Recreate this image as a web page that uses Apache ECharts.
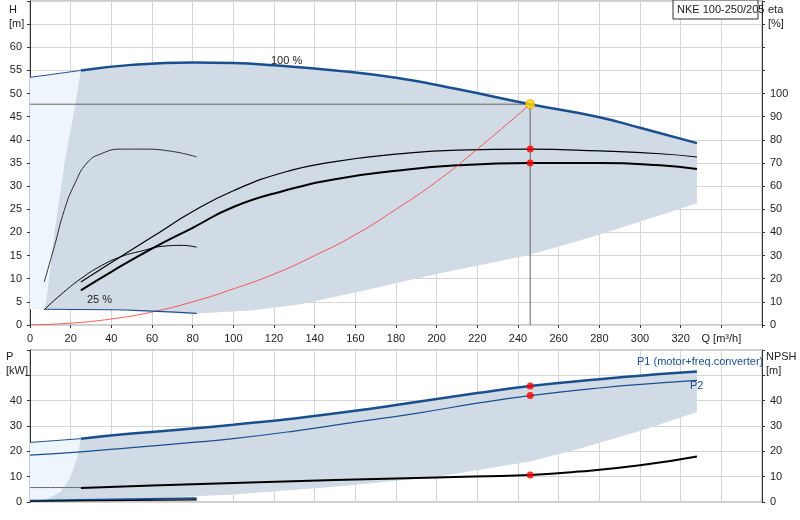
<!DOCTYPE html><html><head><meta charset="utf-8">
<script src="https://cdn.jsdelivr.net/npm/echarts@6/dist/echarts.min.js"></script>
<style>body{margin:0}#c{width:800px;height:520px}</style></head><body><div id="c"></div>
<script>
const qTicks=[0,20,40,60,80,100,120,140,160,180,200,220,240,260,280,300,320];
const h100=[[25,55],[50,56.2],[80,56.7],[100,56.6],[120,56.1],[150,55],[180,53.4],[210,51],[246,47.7],[280,44.9],[300,42.6],[328,39.3]];
const h100thin=[[0,53.5],[25,55]];
const hBandLower=[[328,26.3],[280,19.5],[246,15.2],[200,11],[160,7],[133,4.5],[110,3.2],[82,2.5],[60,3],[40,3.3],[7,3.4],[8,5],[12,20],[17,35],[22,47],[25,55]];
const hLight=[[0,3.4],[7,3.4],[8,5],[12,20],[17,35],[22,47],[25,55],[0,53.5]];
const h25=[[7,3.4],[40,3.3],[60,3],[82,2.5]];
const etaThick=[[25,7.5],[40,11.5],[60,16.5],[80,21],[100,25.5],[125,29],[150,31.5],[180,33.3],[210,34.5],[246,35],[280,35],[310,34.5],[328,33.7]];
const etaThin=[[25,9.3],[40,13.5],[60,19],[80,24.5],[100,29],[125,33],[150,35.3],[180,36.9],[210,37.8],[246,38],[280,37.6],[310,37],[328,36.3]];
const hSmall=[[7,9.3],[12,17],[17,25],[22,30.5],[28,35],[35,37],[45,38],[55,38],[70,37.5],[82,36.3]];
const etaSmall=[[7,3.3],[15,6.5],[25,10],[35,12.8],[45,14.8],[55,16],[65,17],[75,17.2],[82,16.8]];
const sysCurve=[[0,0],[20,0.4],[40,1.3],[60,2.8],[80,5],[100,7.8],[120,11],[140,15],[160,19.5],[180,25],[200,31],[220,38],[246,47.7]];
const dutyQ=246, dutyH=47.7;
const p1=[[25,25],[50,27],[80,29],[100,30.5],[130,33],[160,36],[190,39.5],[220,43],[246,45.8],[280,48.5],[310,50.5],[328,51.5]];
const p1thin=[[0,23.5],[25,25]];
const p2=[[0,18.5],[25,19.8],[50,21.5],[80,23.5],[100,25],[130,28],[160,31.5],[190,35],[220,39],[246,42],[280,45],[310,47],[328,48]];
const pBandLower=[[328,35.5],[300,28],[270,21],[246,16],[200,10],[150,6],[100,3],[60,1.5],[25,0.5],[3,0.3],[8,1],[15,4],[20,10],[23,17],[25,25]];
const pLight=[[0,0],[3,0.3],[8,1],[15,4],[20,10],[23,17],[25,25],[0,23.5]];
const npsh=[[25,5.5],[60,6.5],[100,7.5],[150,8.7],[200,9.7],[246,10.7],[270,12],[300,14.5],[328,18]];
const npshGray=[[0,5.7],[25,5.7]];
const smallBlue=[[0,0.5],[82,1.5]];
const smallBlack=[[0,0.3],[82,0.8]];
const FONT='Liberation Sans';
function poly(pts,color,xi){return {type:'custom',xAxisIndex:xi,yAxisIndex:xi*2,z:1,silent:true,data:[[0,0]],
 renderItem:(p,api)=>({type:'polygon',shape:{points:pts.map(q=>api.coord(q))},style:{fill:color}})};}
function line(d,color,w,xi,yi,z){return {type:'line',xAxisIndex:xi,yAxisIndex:yi,data:d,smooth:true,symbol:'none',z:z||3,silent:true,lineStyle:{color:color,width:w}};}
function xAx(i,labels){return {type:'value',gridIndex:i,min:0,max:360,interval:20,
 axisLine:{show:false},axisTick:{show:labels,length:3,lineStyle:{color:'#333'}},splitLine:{lineStyle:{color:'#d4d4d4'}},
 axisLabel:{show:labels,fontFamily:FONT,fontSize:11,color:'#222',formatter:v=>v==340?'Q [m³/h]':(v>320?'':v)}};}
function yAx(i,max,pos,show,maxLab,interval){return {type:'value',gridIndex:i,min:0,max:max,interval:interval,position:pos,
 axisLine:{show:true,lineStyle:{color:'#333'}},axisTick:{show:true,length:3,lineStyle:{color:'#333'}},
 splitLine:{show:show,lineStyle:{color:'#d4d4d4'}},
 axisLabel:{fontFamily:FONT,fontSize:11,color:'#222',formatter:v=>v>maxLab?'':v}};}
const opt={animation:false,
 grid:[{left:30,right:38,top:1,height:324,show:true,borderColor:'#999'},{left:30,right:38,top:350,height:152,show:true,borderColor:'#999'}],
 xAxis:[xAx(0,true),xAx(1,false)],
 yAxis:[yAx(0,70,'left',true,60,5),yAx(0,140,'right',false,100,10),yAx(1,60,'left',true,40,10),yAx(1,60,'right',false,40,10)],
 series:[
  poly(hLight,'#eef5fc',0),poly(h100.concat(hBandLower),'#d0dbe6',0),
  line(h100,'#1a4f8f',2.5,0,0,4),line(h100thin,'#1a4f8f',1,0,0,4),line(h25,'#1a4f8f',1.2,0,0,4),
  line(etaThick,'#000',2,0,0),line(etaThin,'#000',1.2,0,0),line(hSmall,'#000',0.8,0,0),line(etaSmall,'#000',1,0,0),
  line(sysCurve,'#ff3333',0.8,0,0),
  {type:'line',xAxisIndex:0,yAxisIndex:0,data:[[0,dutyH],[dutyQ,dutyH],[dutyQ,0]],symbol:'none',z:2,lineStyle:{color:'#666',width:1}},
  {type:'scatter',xAxisIndex:0,yAxisIndex:0,z:6,data:[[dutyQ,38],[dutyQ,35]],symbolSize:7,itemStyle:{color:'#ff0000'}},
  {type:'scatter',xAxisIndex:0,yAxisIndex:0,z:6,data:[[dutyQ,dutyH]],symbolSize:9,itemStyle:{color:'#ffdd00',borderColor:'#e0a000',borderWidth:1}},
  poly(pLight,'#eef5fc',1),poly(p1.concat(pBandLower),'#d0dbe6',1),
  line(p1,'#1a4f8f',2.5,1,2,4),line(p1thin,'#1a4f8f',1,1,2,4),line(p2,'#1a4f8f',1.2,1,2,4),
  line(npsh,'#000',2,1,2),line(npshGray,'#666',1,1,2),line(smallBlue,'#1a4f8f',2,1,2),line(smallBlack,'#000',1.2,1,2),
  {type:'scatter',xAxisIndex:1,yAxisIndex:2,z:6,data:[[dutyQ,45.8],[dutyQ,42],[dutyQ,10.7]],symbolSize:7,itemStyle:{color:'#ff0000'}}
 ],
 graphic:[
  {type:'text',left:9,top:3,style:{text:'H\n[m]',fontFamily:FONT,fontSize:11,lineHeight:14,fill:'#222',align:'center'}},
  {type:'text',left:768,top:3,style:{text:'eta\n[%]',fontFamily:FONT,fontSize:11,lineHeight:14,fill:'#222'}},
  {type:'rect',shape:{x:673,y:0,width:85,height:19},style:{fill:'#fff',stroke:'#333'},z:10},
  {type:'text',left:677,top:4,z:11,style:{text:'NKE 100-250/205',fontFamily:FONT,fontSize:11,fill:'#222'}},
  {type:'text',left:271,top:55,z:11,style:{text:'100 %',fontFamily:FONT,fontSize:11,fill:'#222'}},
  {type:'text',left:87,top:294,z:11,style:{text:'25 %',fontFamily:FONT,fontSize:11,fill:'#222'}},
  {type:'text',left:6,top:350,style:{text:'P\n[kW]',fontFamily:FONT,fontSize:11,lineHeight:14,fill:'#222'}},
  {type:'text',left:766,top:350,style:{text:'NPSH\n[m]',fontFamily:FONT,fontSize:11,lineHeight:14,fill:'#222'}},
  {type:'text',left:637,top:356,z:11,style:{text:'P1 (motor+freq.converter)',fontFamily:FONT,fontSize:11,fill:'#1a4f8f'}},
  {type:'text',left:690,top:380,z:11,style:{text:'P2',fontFamily:FONT,fontSize:11,fill:'#1a4f8f'}}
 ]};
echarts.init(document.getElementById('c')).setOption(opt);
</script></body></html>
